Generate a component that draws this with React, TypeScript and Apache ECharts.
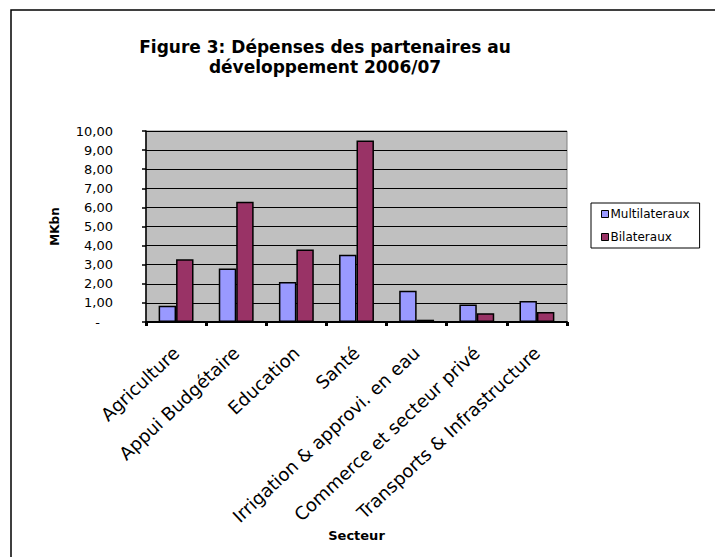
import React, { useEffect, useRef } from "react";
import * as echarts from "echarts";

const categories = [
  "Agriculture",
  "Appui Budgétaire",
  "Education",
  "Santé",
  "Irrigation & approvi. en eau",
  "Commerce et secteur privé",
  "Transports & Infrastructure",
];
const multilateraux = [0.85, 2.8, 2.1, 3.52, 1.63, 0.92, 1.1];
const bilateraux = [3.28, 6.3, 3.8, 9.5, 0.12, 0.46, 0.52];
const seriesNames = ["Multilateraux", "Bilateraux"];
const titleText = "Figure 3: Dépenses des partenaires au\ndéveloppement 2006/07";
const yName = "MKbn";
const xName = "Secteur";

const FONT = "'DejaVu Sans', 'Liberation Sans', Arial, sans-serif";

export default function App() {
  const ref = useRef<HTMLDivElement>(null);
  useEffect(() => {
    document.body.style.margin = "0";
    const chart = echarts.init(ref.current!, null, { renderer: "svg" });
    chart.setOption({
      animation: false,
      backgroundColor: "#ffffff",
      title: {
        text: titleText,
        left: 320,
        top: 32,
        textAlign: "center",
        textStyle: {
          fontFamily: FONT,
          fontSize: 17,
          fontWeight: "bold",
          color: "#000",
          lineHeight: 20,
        },
      },
      graphic: [
        {
          type: "rect",
          z: -1,
          shape: { x: 11, y: 10, width: 800, height: 700 },
          style: { fill: "none", stroke: "#000", lineWidth: 1.5 },
        },
      ],
      legend: {
        orient: "vertical",
        left: 591,
        top: 203,
        padding: [4, 10, 4, 10],
        itemGap: 9,
        itemWidth: 7,
        itemHeight: 7,
        icon: "rect",
        borderColor: "#000",
        borderWidth: 1,
        backgroundColor: "#fff",
        itemStyle: { borderColor: "#000", borderWidth: 1 },
        textStyle: {
          fontFamily: FONT,
          fontSize: 12,
          color: "#000",
          lineHeight: 14,
          padding: [0, 0, 0, -3],
        },
        data: seriesNames,
      },
      grid: {
        left: 146,
        top: 131,
        width: 421,
        height: 191,
        show: true,
        backgroundColor: "#C0C0C0",
        borderColor: "#808080",
        borderWidth: 1,
      },
      xAxis: {
        type: "category",
        data: categories,
        name: xName,
        nameLocation: "middle",
        nameGap: 194,
        nameTextStyle: {
          fontFamily: FONT,
          fontSize: 13,
          fontWeight: "bold",
          color: "#000",
        },
        axisLine: { show: true, lineStyle: { color: "#000", width: 2 } },
        axisTick: {
          show: true,
          alignWithLabel: false,
          length: 4,
          lineStyle: { color: "#000", width: 3 },
        },
        axisLabel: {
          interval: 0,
          rotate: 43,
          margin: 28,
          fontFamily: FONT,
          fontSize: 18,
          color: "#000",
        },
        splitLine: { show: false },
      },
      yAxis: {
        type: "value",
        min: 0,
        max: 10,
        interval: 1,
        name: yName,
        nameLocation: "middle",
        nameRotate: 90,
        nameGap: 85,
        nameTextStyle: {
          fontFamily: FONT,
          fontSize: 12,
          fontWeight: "bold",
          color: "#000",
        },
        axisLine: { show: true, lineStyle: { color: "#000", width: 1.5 } },
        axisTick: { show: true, length: 4, lineStyle: { color: "#000", width: 1.5 } },
        axisLabel: {
          margin: 33,
          fontFamily: FONT,
          fontSize: 13,
          color: "#000",
          formatter: (v: number) =>
            v === 0 ? "{z|-}" : v.toFixed(2).replace(".", ","),
          rich: {
            z: { fontFamily: FONT, fontSize: 13, color: "#000", padding: [0, 13, 0, 0] },
          },
        },
        splitLine: { show: true, lineStyle: { color: "#000", width: 1 } },
      },
      series: [
        {
          name: seriesNames[0],
          type: "bar",
          data: multilateraux,
          barGap: "0%",
          barCategoryGap: "42%",
          itemStyle: { color: "#9999FF", borderColor: "#000", borderWidth: 1.5 },
        },
        {
          name: seriesNames[1],
          type: "bar",
          data: bilateraux,
          barGap: "0%",
          barCategoryGap: "42%",
          itemStyle: { color: "#993366", borderColor: "#000", borderWidth: 1.5 },
        },
      ],
    });
    return () => chart.dispose();
  }, []);
  return <div ref={ref} style={{ width: 715, height: 557 }} />;
}
